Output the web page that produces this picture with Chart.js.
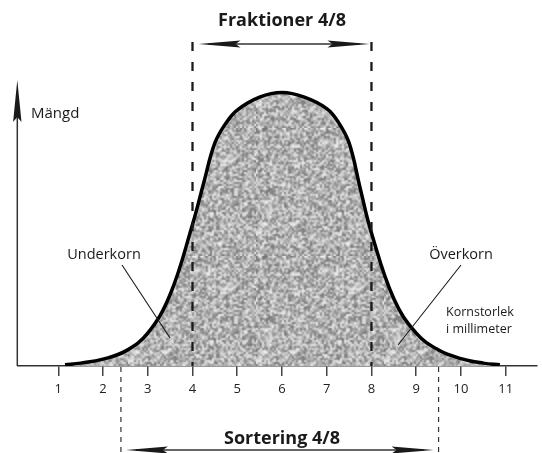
<!DOCTYPE html>
<html>
<head>
<meta charset="utf-8">
<script src="https://cdn.jsdelivr.net/npm/chart.js@4.4.1/dist/chart.umd.min.js"></script>
<style>
  html, body { margin: 0; padding: 0; background: #fff; }
</style>
</head>
<body>
<canvas id="kornChart" width="542" height="453"></canvas>
<script>
// Kornstorlek (mm) och mängd, avlästa från kurvan
const kornstorlek = [1.15, 1.5, 2, 2.5, 3, 3.5, 4, 4.25, 4.5, 4.75, 5, 5.5, 6, 6.5, 7, 7.25, 7.5, 7.75, 8, 8.5, 9, 9.5, 10, 10.5, 10.87];
const mangd = [0.4, 1.0, 2.4, 5.2, 11.5, 25, 49.5, 64, 78, 85, 89.5, 94, 95.6, 94, 90, 85.5, 78, 62, 46.5, 23.5, 11.5, 5.6, 2.6, 1.0, 0.4];
const tickLabels = [1, 2, 3, 4, 5, 6, 7, 8, 9, 10, 11];
const fraktion = [4, 8];       // Fraktioner 4/8
const sortering = [2.4, 9.5];  // Sortering 4/8

const FONT = "'Open Sans', 'Noto Sans', sans-serif";
const INK = '#1a1a1a';

// grå "grus"-textur för ytan under kurvan
function makeTexture(ctx) {
  const n = document.createElement('canvas');
  n.width = 64; n.height = 64;
  const nctx = n.getContext('2d');
  const img = nctx.createImageData(64, 64);
  let seed = 12345;
  const rnd = () => { seed = (seed * 16807) % 2147483647; return seed / 2147483647; };
  for (let i = 0; i < img.data.length; i += 4) {
    const v = 115 + rnd() * 125;
    img.data[i] = img.data[i + 1] = img.data[i + 2] = v;
    img.data[i + 3] = 255;
  }
  nctx.putImageData(img, 0, 0);
  const t = document.createElement('canvas');
  t.width = 128; t.height = 128;
  const tctx = t.getContext('2d');
  tctx.imageSmoothingEnabled = true;
  tctx.drawImage(n, 0, 0, 128, 128);
  return ctx.createPattern(t, 'repeat');
}

function arrowHead(ctx, tipX, y, dir, len, half) {
  // dir = 1 pekar åt höger, -1 åt vänster
  ctx.beginPath();
  ctx.moveTo(tipX, y);
  ctx.lineTo(tipX - dir * len, y - half);
  ctx.lineTo(tipX - dir * len * 0.88, y);
  ctx.lineTo(tipX - dir * len, y + half);
  ctx.closePath();
  ctx.fill();
}

function doubleArrow(ctx, x1, x2, y) {
  ctx.strokeStyle = '#333';
  ctx.fillStyle = INK;
  ctx.lineWidth = 1.5;
  ctx.beginPath();
  ctx.moveTo(x1 + 10, y);
  ctx.lineTo(x2 - 10, y);
  ctx.stroke();
  arrowHead(ctx, x1, y, -1, 42, 3.5);
  arrowHead(ctx, x2, y, 1, 42, 3.5);
}

const overlay = {
  id: 'overlay',
  afterDatasetsDraw(chart) {
    const { ctx, chartArea, scales: { x } } = chart;
    const bottom = chartArea.bottom;
    const left = chartArea.left;
    ctx.save();

    // y-axel med pil
    ctx.strokeStyle = '#333';
    ctx.lineWidth = 1.5;
    ctx.beginPath();
    ctx.moveTo(left, bottom);
    ctx.lineTo(left, 110);
    ctx.stroke();
    ctx.fillStyle = INK;
    ctx.beginPath();
    ctx.moveTo(left, 80);
    ctx.lineTo(left - 4.2, 122);
    ctx.lineTo(left, 117);
    ctx.lineTo(left + 4.2, 122);
    ctx.closePath();
    ctx.fill();

    // streckade linjer för fraktionen
    ctx.strokeStyle = INK;
    ctx.lineWidth = 2.3;
    ctx.setLineDash([9, 11]);
    fraktion.forEach(v => {
      const px = x.getPixelForValue(v);
      ctx.beginPath();
      ctx.moveTo(px, 42);
      ctx.lineTo(px, bottom);
      ctx.stroke();
    });

    // streckade linjer för sorteringen
    ctx.strokeStyle = '#333';
    ctx.lineWidth = 1.2;
    ctx.setLineDash([5, 5]);
    sortering.forEach(v => {
      const px = x.getPixelForValue(v);
      ctx.beginPath();
      ctx.moveTo(px, bottom + 1);
      ctx.lineTo(px, 453);
      ctx.stroke();
    });
    ctx.setLineDash([]);

    // pilar
    const f1 = x.getPixelForValue(fraktion[0]), f2 = x.getPixelForValue(fraktion[1]);
    doubleArrow(ctx, f1 + 6, f2 - 2, 44);
    const s1 = x.getPixelForValue(sortering[0]), s2 = x.getPixelForValue(sortering[1]);
    doubleArrow(ctx, s1 + 5, s2 - 5, 450);

    // rubriker
    ctx.fillStyle = INK;
    ctx.textAlign = 'center';
    ctx.textBaseline = 'alphabetic';
    ctx.font = 'bold 18px ' + FONT;
    ctx.fillText('Fraktioner 4/8', (f1 + f2) / 2, 26);
    ctx.fillText('Sortering 4/8', (f1 + f2) / 2, 444);

    ctx.font = '15px ' + FONT;
    ctx.textAlign = 'left';
    ctx.fillText('Mängd', 31, 118);
    ctx.font = '14.5px ' + FONT;
    ctx.textAlign = 'center';
    ctx.fillText('Underkorn', 104, 259);
    ctx.fillText('Överkorn', 461, 259);

    ctx.font = '12.5px ' + FONT;
    ctx.textAlign = 'left';
    ctx.fillText('Kornstorlek', 446, 316);
    ctx.fillText('i millimeter', 446, 333);

    // hänvisningslinjer
    ctx.strokeStyle = INK;
    ctx.lineWidth = 1.1;
    ctx.beginPath();
    ctx.moveTo(122, 265);
    ctx.lineTo(170, 338);
    ctx.moveTo(461, 265);
    ctx.lineTo(398, 345);
    ctx.stroke();

    ctx.restore();
  }
};

const canvas = document.getElementById('kornChart');
const ctx = canvas.getContext('2d');

new Chart(ctx, {
  type: 'line',
  data: {
    datasets: [{
      data: kornstorlek.map((v, i) => ({ x: v, y: mangd[i] })),
      borderColor: '#000',
      borderWidth: 3.5,
      backgroundColor: makeTexture(ctx),
      fill: 'origin',
      pointRadius: 0,
      tension: 0.4
    }]
  },
  options: {
    responsive: false,
    animation: false,
    devicePixelRatio: 1,
    layout: { padding: { left: 17.3, right: 5, top: 80, bottom: 0 } },
    plugins: { legend: { display: false }, tooltip: { enabled: false } },
    scales: {
      x: {
        type: 'linear',
        min: 0.084,
        max: 11.70,
        afterBuildTicks: s => { s.ticks = tickLabels.map(v => ({ value: v })); },
        afterFit: s => { s.height = 87; },
        grid: { drawOnChartArea: false, tickLength: 10, color: '#444', lineWidth: 1.5 },
        border: { color: '#333', width: 1.5 },
        ticks: { color: '#222', padding: 5, autoSkip: false, maxRotation: 0, font: { family: FONT, size: 13 } }
      },
      y: { display: false, min: 0, max: 100 }
    }
  },
  plugins: [overlay]
});
</script>
</body>
</html>
